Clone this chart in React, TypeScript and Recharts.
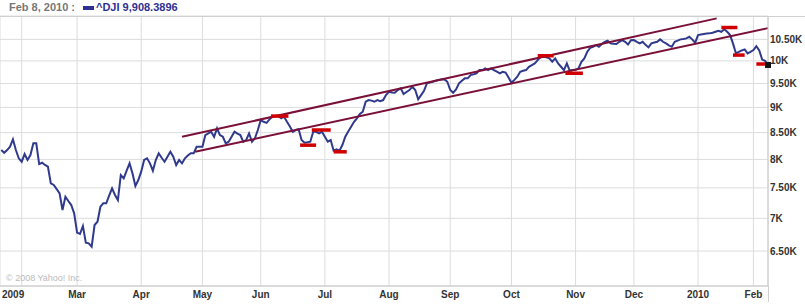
import { LineChart, Line, XAxis, YAxis, CartesianGrid, ReferenceLine, ReferenceDot } from "recharts";

// x axis is trading-day index, 0 = Feb 2, 2009
const FIRST_DAY = -7;
const X_START = -7.44;
const LAST_DAY = 256;

// ^DJI daily closes (Jan 2009 .. Feb 8, 2010)
const closes = [
  8171, 8120, 8171, 8233, 8372, 8171, 8019,
  7958, 8098, 7989, 8079, 8296, 8296, 7916, 7940, 7900, 7868, 7578, 7549, 7480, 7408, 7133, 7351, 7280, 7214, 7080,
  6776, 6756, 6879, 6624, 6615, 6564, 6895, 6946, 7187, 7242, 7242, 7370, 7492, 7380, 7296, 7722, 7664, 7800, 7929, 7751, 7531, 7635,
  7780, 7989, 8019, 7929, 7797, 7989, 8111, 8030, 7958, 8048, 8140, 8050, 7898, 7989, 7929, 8019, 8070, 8111, 8111, 8233, 8233,
  8233, 8454, 8486, 8517, 8421, 8583, 8454, 8421, 8296, 8327, 8420, 8517, 8480, 8454, 8327, 8359, 8486, 8327, 8391, 8550,
  8746, 8712, 8690, 8760, 8812, 8826, 8826, 8780, 8812, 8712, 8620, 8517, 8550, 8564, 8359, 8308, 8315, 8327, 8517, 8517, 8486, 8517,
  8420, 8327, 8359, 8160, 8184, 8158, 8265, 8421, 8520, 8614, 8712, 8780, 8866, 8912, 9116, 9151, 9140, 9116, 9150, 9130, 9151, 9260,
  9325, 9310, 9304, 9361, 9397, 9276, 9320, 9361, 9431, 9361, 9166, 9255, 9346, 9504, 9520, 9539, 9560, 9575, 9585, 9590, 9539,
  9361, 9304, 9376, 9504, 9560, 9612, 9612, 9684, 9700, 9722, 9795, 9795, 9832, 9795, 9832, 9795, 9760, 9722, 9757, 9740, 9630,
  9517, 9580, 9647, 9757, 9780, 9795, 9868, 9906, 9944, 10019, 10094, 10094, 10080, 10058, 9981, 10058, 9944, 9868, 9795, 9944, 9779, 9795,
  9800, 9832, 9981, 10058, 10209, 10300, 10325, 10365, 10325, 10389, 10443, 10467, 10405, 10395, 10389, 10443, 10483, 10443, 10380, 10480,
  10483, 10440, 10405, 10443, 10370, 10311, 10405, 10425, 10443, 10500, 10443, 10405, 10360, 10325, 10443, 10470, 10500, 10510, 10524, 10562, 10500, 10420,
  10603, 10615, 10627, 10640, 10644, 10658, 10682, 10707, 10682, 10741, 10682, 10603, 10400, 10172, 10209, 10240, 10265, 10172, 10209,
  10250, 10340, 10240, 10030, 10000, 9908.3896,
];

const monthTicks = [X_START, 0, 19, 41, 62, 82, 104, 126, 147, 168, 190, 210, 232, 251];
const monthLabels = ["2009", "", "Mar", "Apr", "May", "Jun", "Jul", "Aug", "Sep", "Oct", "Nov", "Dec", "2010", "Feb"];

const priceTicks = [6500, 7000, 7500, 8000, 8500, 9000, 9500, 10000, 10500];
const priceDomain = [6005, 11071];

// trend channel (day, close)
const upperChannel = [[55, 8420], [238.4, 11011]];
const lowerChannel = [[59.5, 8139], [256, 10771]];

// red support / resistance marks
const markFrom = [85.5, 95.5, 99.5, 107, 177, 186.5, 240, 244, 252];
const markTo = [91.5, 101, 106, 111.5, 182.5, 192.5, 245.5, 248, 256];
const markLevel = [8825, 8262, 8551, 8139, 10118, 9724, 10786, 10133, 9930];

const data = closes.map((c, i) => ({ day: FIRST_DAY + i, close: c }));

const FONT = "'Liberation Sans', Arial, sans-serif";

function fmtPrice(v: number) {
  return v % 1000 === 0 ? `${v / 1000}K` : `${(v / 1000).toFixed(2)}K`;
}

function MonthTick({ x, y, payload }: any) {
  const idx = monthTicks.indexOf(payload.value);
  const label = monthLabels[idx] ?? "";
  if (!label) return null;
  const first = idx === 0;
  return (
    <text x={first ? x + 2 : x} y={y + 12} textAnchor={first ? "start" : "middle"} fill="#333" fontSize={10} fontWeight="bold" fontFamily={FONT}>
      {label}
    </text>
  );
}

function EndSquare({ cx, cy }: any) {
  return <rect x={cx - 3} y={cy - 3} width={6} height={6} fill="#111" />;
}

export default function App() {
  return (
    <div style={{ position: "relative", width: 805, height: 305, background: "#fff" }}>
      <style>{`body{margin:0}`}</style>
      <LineChart width={805} height={305} data={data} margin={{ top: 16, right: 0, bottom: 0, left: 0 }}>
        <CartesianGrid stroke="#dcdcdc" />
        <XAxis
          dataKey="day"
          type="number"
          domain={[X_START, LAST_DAY]}
          ticks={monthTicks}
          interval={0}
          tick={<MonthTick />}
          tickLine={false}
          tickSize={0}
          tickMargin={0}
          height={19}
          axisLine={{ stroke: "#c8c8c8" }}
          allowDataOverflow
        />
        <YAxis
          orientation="right"
          scale="log"
          type="number"
          domain={priceDomain}
          allowDataOverflow
          ticks={priceTicks}
          interval={0}
          tickFormatter={fmtPrice}
          tickLine={false}
          tickSize={0}
          tickMargin={2}
          width={37}
          axisLine={{ stroke: "#c8c8c8" }}
          tick={{ fill: "#333", fontSize: 10, fontWeight: "bold", fontFamily: FONT, textAnchor: "start" }}
        />
        <Line type="linear" dataKey="close" stroke="#2f3a8c" strokeWidth={2} dot={false} isAnimationActive={false} />
        <ReferenceLine segment={[{ x: upperChannel[0][0], y: upperChannel[0][1] }, { x: upperChannel[1][0], y: upperChannel[1][1] }]} stroke="#7a1038" strokeWidth={2} />
        <ReferenceLine segment={[{ x: lowerChannel[0][0], y: lowerChannel[0][1] }, { x: lowerChannel[1][0], y: lowerChannel[1][1] }]} stroke="#7a1038" strokeWidth={2} />
        {markLevel.map((lvl, i) => (
          <ReferenceLine key={i} segment={[{ x: markFrom[i], y: lvl }, { x: markTo[i], y: lvl }]} stroke="#d00000" strokeWidth={3.5} />
        ))}
        <ReferenceDot x={LAST_DAY} y={closes[closes.length - 1]} r={3} shape={<EndSquare />} />
      </LineChart>
      <div style={{ position: "absolute", left: 0, top: 16, width: 805, height: 1, background: "#d0d0d0" }} />
      <div style={{ position: "absolute", left: 768, top: 286, width: 1, height: 16, background: "#d0d0d0" }} />
      <div style={{ position: "absolute", left: 9, top: 2, lineHeight: "11px", fontSize: 11, fontWeight: "bold", fontFamily: FONT, color: "#777", whiteSpace: "nowrap" }}>
        Feb 8, 2010 :
      </div>
      <div style={{ position: "absolute", left: 83, top: 6, width: 11, height: 4, background: "#2e3192" }} />
      <div style={{ position: "absolute", left: 96, top: 2, lineHeight: "11px", fontSize: 11, fontWeight: "bold", fontFamily: FONT, color: "#2e3192", whiteSpace: "nowrap" }}>
        ^DJI 9,908.3896
      </div>
      <div style={{ position: "absolute", left: 6, top: 274, lineHeight: "9px", fontSize: 9, fontFamily: FONT, color: "#bbb", whiteSpace: "nowrap" }}>
        © 2008 Yahoo! Inc.
      </div>
    </div>
  );
}
